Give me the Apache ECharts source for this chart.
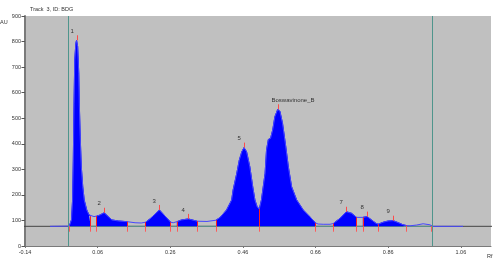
<!DOCTYPE html>
<html>
<head>
<meta charset="utf-8">
<script src="https://cdn.jsdelivr.net/npm/echarts@6/dist/echarts.min.js"></script>
<style>
html,body{margin:0;padding:0;background:#fff}
#chart{width:500px;height:259px}
</style>
</head>
<body>
<div id="chart"></div>
<script>
// tick labels of the Rf axis
var xTicks = [-0.14, 0.06, 0.26, 0.46, 0.66, 0.86, 1.06];
// baseline of the densitogram (AU)
var baseline = 77;
// scanned track: [Rf, AU]
var curve = [
  [-0.071, 77], [-0.018, 78], [-0.012, 102], [-0.009, 180], [-0.007, 336], [-0.005, 559],
  [-0.003, 728], [0.000, 793], [0.002, 805], [0.005, 780], [0.008, 676], [0.0095, 558],
  [0.012, 428], [0.015, 310], [0.019, 232], [0.023, 180], [0.030, 141], [0.036, 122],
  [0.041, 116], [0.050, 115], [0.057, 117], [0.066, 121], [0.078, 130], [0.089, 115],
  [0.099, 102], [0.117, 98], [0.142, 95], [0.163, 91], [0.180, 90], [0.192, 93],
  [0.204, 106], [0.213, 118], [0.230, 141], [0.245, 118], [0.261, 93], [0.268, 91],
  [0.278, 95], [0.291, 102], [0.310, 106], [0.328, 99], [0.334, 97], [0.361, 96],
  [0.386, 101], [0.397, 112], [0.415, 141], [0.429, 180], [0.433, 219], [0.443, 284],
  [0.450, 336], [0.457, 369], [0.463, 385], [0.470, 369], [0.479, 310], [0.487, 232],
  [0.493, 180], [0.499, 154], [0.505, 144], [0.511, 180], [0.521, 284], [0.525, 376],
  [0.530, 417], [0.536, 421], [0.542, 454], [0.548, 506], [0.556, 535], [0.562, 526],
  [0.569, 480], [0.578, 388], [0.585, 310], [0.594, 232], [0.608, 180], [0.626, 141],
  [0.644, 115], [0.660, 90], [0.667, 86], [0.681, 85], [0.700, 85], [0.709, 88],
  [0.713, 91], [0.727, 108], [0.745, 134], [0.759, 128], [0.773, 112], [0.777, 111],
  [0.790, 112], [0.802, 115], [0.814, 102], [0.826, 89], [0.832, 85], [0.846, 93],
  [0.860, 98], [0.874, 99], [0.888, 91], [0.901, 83], [0.910, 80], [0.920, 79],
  [0.938, 82], [0.956, 87], [0.975, 83], [0.979, 78], [0.982, 77], [1.066, 77]
];
// integrated peaks
var peakNames = ['1', '2', '3', '4', '5', 'Boswavinone_B', '7', '8', '9'];
var peakX = [0.002, 0.078, 0.230, 0.310, 0.463, 0.556, 0.745, 0.802, 0.874];
var peakV = [805, 130, 141, 106, 385, 535, 134, 115, 99];
var fillRanges = [[-0.018, 0.041], [0.057, 0.142], [0.192, 0.261], [0.278, 0.334],
  [0.386, 0.505], [0.505, 0.660], [0.709, 0.773], [0.790, 0.832], [0.832, 0.910]];
// peak start / end marks
var boundX = [-0.018, 0.041, 0.057, 0.142, 0.192, 0.261, 0.278, 0.334, 0.386, 0.505,
  0.660, 0.709, 0.773, 0.790, 0.832, 0.910, 0.979];
// application position and solvent front
var frontX = [-0.02, 0.98];

var fnt = 'Liberation Sans, Arial, sans-serif';
var txt = '#333';

function valueAt(x) {
  for (var i = 0; i < curve.length; i++) {
    if (curve[i][0] === x) return curve[i][1];
  }
  return baseline;
}

// vertical marks: red part above the baseline, pink foot below it
var markData = [];
boundX.forEach(function (x) {
  markData.push([{ coord: [x, valueAt(x)], lineStyle: { color: '#ff1e1e' } }, { coord: [x, baseline] }]);
  markData.push([{ coord: [x, baseline], lineStyle: { color: '#ff5a5a' } }, { coord: [x, baseline - 21] }]);
});

var series = [];
// dark baseline over the full width
series.push({
  type: 'line', data: [[-0.209, baseline], [1.168, baseline]], clip: false,
  symbol: 'none', silent: true, lineStyle: { color: '#444', width: 1 }, z: 1
});
// green integration baseline
series.push({
  type: 'line', data: [[frontX[0], baseline], [frontX[1], baseline]],
  symbol: 'none', silent: true, lineStyle: { color: '#5f9a92', width: 1 }, z: 2,
  markLine: {
    silent: true, symbol: 'none', label: { show: false },
    lineStyle: { color: '#4f958c', type: 'solid', width: 1 },
    data: frontX.map(function (x) { return { xAxis: x }; })
  }
});
// filled peak areas
fillRanges.forEach(function (r) {
  series.push({
    type: 'line',
    data: curve.filter(function (p) { return p[0] >= r[0] && p[0] <= r[1]; }),
    symbol: 'none', silent: true,
    lineStyle: { color: '#0000ff', width: 1 },
    areaStyle: { color: '#0000ff', opacity: 1, origin: baseline },
    z: 3
  });
});
// the scan line, with peak start / end marks
series.push({
  type: 'line', data: curve, symbol: 'none', silent: true,
  lineStyle: { color: '#4646ff', width: 1 }, z: 4,
  markLine: {
    silent: true, symbol: 'none', label: { show: false }, z: 6,
    lineStyle: { color: '#ff1e1e', type: 'solid', width: 1 },
    data: markData
  }
});
// peak maxima ticks and names
series.push({
  type: 'custom', silent: true, z: 7,
  data: peakX.map(function (x, i) { return [x, peakV[i], i]; }),
  renderItem: function (params, api) {
    var p = api.coord([api.value(0), api.value(1)]);
    var x = Math.round(p[0]) + 0.5;
    return {
      type: 'group', children: [
        { type: 'line', shape: { x1: x, y1: p[1], x2: x, y2: p[1] - 5 }, style: { stroke: '#ff4a4a', lineWidth: 1 } },
        { type: 'text', x: x - 7, y: p[1] - 6, style: { text: peakNames[api.value(2)], fill: txt, font: '6px ' + fnt, textAlign: 'left', textVerticalAlign: 'bottom' } }
      ]
    };
  }
});

var chart = echarts.init(document.getElementById('chart'));
chart.setOption({
  animation: false,
  backgroundColor: '#fff',
  title: {
    text: 'Track  3, ID: BDG', left: 25, top: 1,
    textStyle: { fontSize: 5.5, fontWeight: 'normal', color: txt, fontFamily: fnt }
  },
  graphic: [
    { type: 'text', left: 0, top: 19, style: { text: 'AU', fill: txt, font: '5.5px ' + fnt } },
    { type: 'text', left: 487, top: 253, style: { text: 'Rf', fill: txt, font: '5.5px ' + fnt } }
  ],
  grid: {
    left: 25, right: 9, top: 16, bottom: 13, show: true,
    backgroundColor: '#c0c0c0', borderWidth: 0
  },
  xAxis: {
    type: 'value', min: -0.14, max: 1.143,
    axisLine: { onZero: false, lineStyle: { color: '#7a7a7a', width: 1 } },
    axisTick: { customValues: xTicks, length: 2, lineStyle: { color: '#777' } },
    axisLabel: {
      customValues: xTicks, fontSize: 5.5, color: txt, fontFamily: fnt, margin: 3,
      formatter: function (v) { return v.toFixed(2); }
    },
    splitLine: { show: false }
  },
  yAxis: {
    type: 'value', min: 0, max: 900, interval: 100,
    axisLine: { show: true, onZero: false, lineStyle: { color: '#7a7a7a', width: 2 } },
    axisTick: { show: true, length: 3.5, lineStyle: { color: '#555' } },
    axisLabel: { fontSize: 5.5, color: txt, fontFamily: fnt, margin: 4 },
    splitLine: { show: false }
  },
  series: series
});
</script>
</body>
</html>
